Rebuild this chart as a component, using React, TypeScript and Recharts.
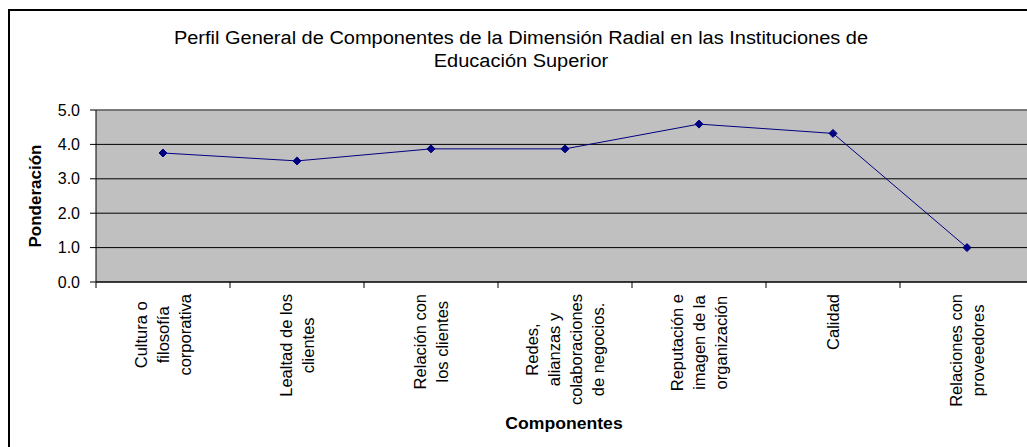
import React from "react";
import {
  LineChart,
  Line,
  XAxis,
  YAxis,
  CartesianGrid,
  ReferenceLine,
} from "recharts";

const categories = [
  "Cultura o filosofía corporativa",
  "Lealtad de los clientes",
  "Relación con los clientes",
  "Redes, alianzas y colaboraciones de negocios.",
  "Reputación e imagen de la organización",
  "Calidad",
  "Relaciones con proveedores",
];

const tickLines = [
  ["Cultura o", "filosofía", "corporativa"],
  ["Lealtad de los", "clientes"],
  ["Relación con", "los clientes"],
  ["Redes,", "alianzas y", "colaboraciones", "de negocios."],
  ["Reputación e", "imagen de la", "organización"],
  ["Calidad"],
  ["Relaciones con", "proveedores"],
];

const ponderacion = [3.75, 3.52, 3.87, 3.87, 4.59, 4.32, 1.0];

const yTicks = [0, 1, 2, 3, 4, 5];

const data = categories.map((name, i) => ({ name, value: ponderacion[i] }));

const FONT = "'Liberation Sans', Arial, sans-serif";
const TICK_SIZE = 16;
const CAT_SIZE = 16.5;
const LINE_H = 22;

let ctx: CanvasRenderingContext2D | null = null;
function measure(text: string) {
  if (!ctx) ctx = document.createElement("canvas").getContext("2d");
  if (!ctx) return text.length * 8;
  ctx.font = `${CAT_SIZE}px ${FONT}`;
  return ctx.measureText(text).width;
}

function CategoryTick(props: any) {
  const { x, y, payload, index } = props;
  const i = payload?.index ?? index;
  const lines = tickLines[i] || [];
  const half = payload?.offset || 67;
  const maxW = Math.max(...lines.map(measure));
  const along = 12 + maxW / 2;
  const n = lines.length;
  return (
    <g>
      <line x1={x - half} x2={x - half} y1={y} y2={y + 6} stroke="#000" />
      {i === categories.length - 1 && (
        <line x1={x + half} x2={x + half} y1={y} y2={y + 6} stroke="#000" />
      )}
      <text
        transform={`translate(${x},${y + along}) rotate(-90)`}
        textAnchor="middle"
        fontSize={CAT_SIZE}
        fontFamily={FONT}
        fill="#000"
      >
        {lines.map((l, k) => (
          <tspan key={k} x={0} y={(k - (n - 1) / 2) * LINE_H} dy="0.35em">
            {l}
          </tspan>
        ))}
      </text>
    </g>
  );
}

function Diamond(props: any) {
  const { cx, cy } = props;
  if (cx == null || cy == null) return null;
  const r = 4;
  return (
    <path
      d={`M${cx},${cy - r}L${cx + r},${cy}L${cx},${cy + r}L${cx - r},${cy}Z`}
      fill="#000080"
      stroke="#000080"
    />
  );
}

export default function App() {
  return (
    <div
      style={{
        position: "fixed",
        left: 0,
        top: 0,
        width: 1027,
        height: 447,
        overflow: "hidden",
        background: "#fff",
        fontFamily: FONT,
      }}
    >
      <div
        style={{
          position: "absolute",
          left: 8,
          top: 9,
          width: 1100,
          height: 500,
          border: "2px solid #000",
        }}
      />
      <div
        style={{
          position: "absolute",
          left: 0,
          width: 1042,
          top: 27,
          textAlign: "center",
          fontSize: 18,
          lineHeight: "23px",
          color: "#000",
          transform: "scaleX(1.11)",
          transformOrigin: "521px 0",
        }}
      >
        Perfil General de Componentes de la Dimensión Radial en las Instituciones de
        <br />
        Educación Superior
      </div>
      <div
        style={{
          position: "absolute",
          left: 36,
          top: 196,
          transform: "translate(-50%,-50%) rotate(-90deg)",
          fontSize: 17,
          fontWeight: "bold",
          whiteSpace: "nowrap",
        }}
      >
        Ponderación
      </div>
      <div
        style={{
          position: "absolute",
          left: 564,
          top: 424,
          transform: "translate(-50%,-50%) scaleX(1.1)",
          fontSize: 16,
          fontWeight: "bold",
          whiteSpace: "nowrap",
        }}
      >
        Componentes
      </div>
      <div style={{ position: "absolute", left: 0, top: 0 }}>
        <LineChart
          width={1060}
          height={450}
          data={data}
          margin={{ top: 110, right: 26, bottom: 0, left: 0 }}
        >
          <CartesianGrid
            vertical={false}
            stroke="#000"
            fill="#C0C0C0"
            fillOpacity={1}
          />
          <ReferenceLine y={5} stroke="#808080" />
          <XAxis
            dataKey="name"
            scale="band"
            height={168}
            interval={0}
            tickLine={false}
            tickSize={0}
            tickMargin={0}
            axisLine={{ stroke: "#000" }}
            tick={<CategoryTick />}
          />
          <YAxis
            width={96}
            domain={[0, 5]}
            ticks={yTicks}
            interval={0}
            tickFormatter={(v: number) => v.toFixed(1)}
            tickSize={6}
            tickMargin={10}
            tickLine={{ stroke: "#000" }}
            axisLine={{ stroke: "#000" }}
            tick={{ fill: "#000", fontSize: TICK_SIZE, fontFamily: FONT }}
          />
          <Line
            type="linear"
            dataKey="value"
            stroke="#000080"
            strokeWidth={1}
            dot={<Diamond />}
            activeDot={false}
            isAnimationActive={false}
          />
        </LineChart>
      </div>
    </div>
  );
}
